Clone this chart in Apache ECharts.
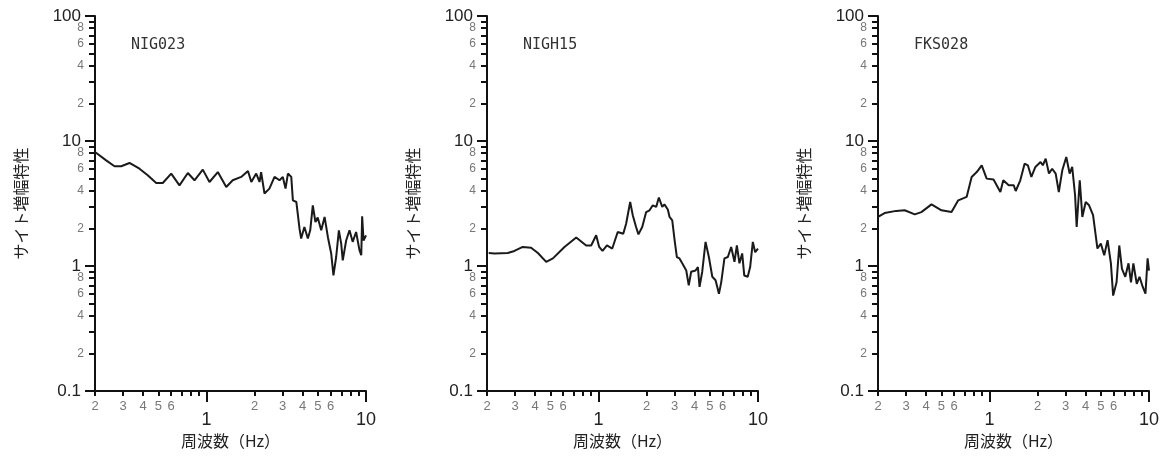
<!DOCTYPE html>
<html>
<head>
<meta charset="utf-8">
<script src="https://cdn.jsdelivr.net/npm/echarts@6/dist/echarts.min.js"></script>
<style>
html,body{margin:0;padding:0;background:#fff;}
#c{width:1167px;height:459px;}
</style>
</head>
<body>
<div id="c"></div>
<script>
// ---- data ----
const stations = ['NIG023', 'NIGH15', 'FKS028'];

const freqNIG023 = [0.2,0.235,0.265,0.292,0.329,0.38,0.428,0.484,0.532,0.601,0.677,0.764,0.841,0.948,1.044,1.178,1.33,1.46,1.65,1.82,1.91,2.05,2.15,2.2,2.31,2.48,2.67,2.87,3.01,3.13,3.24,3.4,3.48,3.66,3.83,3.92,4.11,4.32,4.47,4.64,4.82,4.98,5.24,5.5,5.77,6.05,6.25,6.5,6.76,6.99,7.15,7.51,7.88,8.25,8.67,9.1,9.34,9.46,9.65,10];
const ampNIG023  = [8.17,7.0,6.28,6.28,6.67,6.0,5.32,4.61,4.61,5.49,4.42,5.55,4.85,5.9,4.7,5.64,4.29,4.85,5.16,5.75,4.7,5.49,4.7,5.64,3.8,4.16,5.16,4.85,5.16,4.16,5.49,5.16,3.35,3.25,1.99,1.66,2.05,1.66,1.93,3.06,2.25,2.44,1.93,2.47,1.7,1.26,0.84,1.18,1.93,1.51,1.11,1.6,1.93,1.56,1.87,1.34,1.22,2.5,1.6,1.76];

const freqNIGH15 = [0.205,0.223,0.27,0.297,0.335,0.378,0.417,0.47,0.518,0.612,0.725,0.837,0.9,0.967,1.01,1.06,1.13,1.22,1.32,1.43,1.49,1.58,1.64,1.72,1.78,1.88,1.99,2.09,2.19,2.3,2.39,2.51,2.59,2.72,2.79,2.9,3.0,3.1,3.22,3.35,3.55,3.68,3.81,4.06,4.2,4.3,4.47,4.69,4.92,5.17,5.42,5.69,5.88,6.16,6.47,6.79,7.12,7.37,7.65,7.96,8.2,8.62,8.93,9.28,9.6,10];
const ampNIGH15  = [1.27,1.26,1.27,1.32,1.42,1.40,1.27,1.08,1.15,1.42,1.69,1.46,1.46,1.76,1.42,1.32,1.46,1.38,1.87,1.81,2.18,3.25,2.55,2.05,1.79,2.05,2.7,2.79,3.06,2.97,3.53,2.97,3.11,2.83,2.47,2.32,1.61,1.18,1.15,1.05,0.92,0.70,0.90,0.92,0.98,0.68,0.90,1.56,1.18,0.82,0.77,0.60,0.74,1.15,1.18,1.42,1.08,1.46,1.05,1.26,0.84,0.82,0.98,1.56,1.29,1.38];

const freqFKS028 = [0.2,0.22,0.26,0.294,0.34,0.374,0.433,0.5,0.578,0.637,0.719,0.773,0.832,0.894,0.96,1.06,1.17,1.22,1.32,1.42,1.46,1.56,1.66,1.74,1.83,1.94,2.09,2.16,2.25,2.36,2.47,2.6,2.72,2.86,3.03,3.18,3.3,3.44,3.52,3.68,3.82,4.01,4.21,4.46,4.75,4.99,5.24,5.5,5.77,5.96,6.26,6.51,6.77,7.1,7.44,7.71,7.98,8.38,8.72,9.14,9.5,9.8,10];
const ampFKS028  = [2.47,2.65,2.76,2.79,2.59,2.7,3.11,2.79,2.7,3.35,3.57,5.16,5.64,6.39,5.0,4.92,3.91,4.85,4.42,4.42,3.98,4.85,6.59,6.39,5.16,6.2,6.8,6.39,7.23,5.49,6.0,5.49,3.91,5.83,7.45,5.49,6.2,3.68,2.05,4.85,2.47,3.25,3.06,2.55,1.38,1.51,1.22,1.61,1.05,0.58,0.74,1.46,0.95,0.82,1.05,0.74,1.05,0.72,0.82,0.68,0.6,1.15,0.92];

const seriesFreq = [freqNIG023, freqNIGH15, freqFKS028];
const seriesAmp  = [ampNIG023, ampNIGH15, ampFKS028];

// tick values / labels
const xMinorTicks  = [0.2,0.3,0.4,0.5,0.6,0.7,0.8,0.9,2,3,4,5,6,7,8,9];
const xMinorLabels = [0.2,0.3,0.4,0.5,0.6,2,3,4,5,6];
const xMajorTicks  = [1,10];
const yMinorTicks  = [0.2,0.3,0.4,0.5,0.6,0.7,0.8,0.9,2,3,4,5,6,7,8,9,20,30,40,50,60,70,80,90];
const yMinorLabels = [0.2,0.4,0.6,0.8,2,4,6,8,20,40,60,80];
const yMajorTicks  = [0.1,1,10,100];

const xName = '周波数（Hz）';
const yName = 'サイト増幅特性';

// ---- layout ----
const gridLefts = [95, 487, 878];
const gridW = 271, gridTop = 16, gridH = 375;
const CJK = '"Noto Sans CJK JP", sans-serif';

function leadDigit(v) {
  const e = Math.floor(Math.log10(v) + 1e-9);
  return String(Math.round(v / Math.pow(10, e)));
}
function majorLabel(v) {
  if (v < 0.5) return '0.1';
  return String(Math.round(v));
}

const grid = [], xAxis = [], yAxis = [], series = [], title = [];
for (let i = 0; i < 3; i++) {
  grid.push({left: gridLefts[i], top: gridTop, width: gridW, height: gridH});
  xAxis.push({
    type: 'log', gridIndex: i, min: 0.2, max: 10, position: 'bottom',
    name: xName, nameLocation: 'middle', nameGap: 42,
    nameTextStyle: {fontFamily: CJK, fontSize: 16, color: '#222'},
    axisLine: {show: true, lineStyle: {color: '#111', width: 2}},
    axisTick: {show: true, inside: false, length: 5, customValues: xMinorTicks, lineStyle: {color: '#111', width: 2}},
    axisLabel: {show: true, customValues: xMinorLabels, margin: 9, fontSize: 13, color: '#777',
      fontFamily: '"Liberation Sans", sans-serif', formatter: leadDigit},
    splitLine: {show: false}, minorTick: {show: false}
  });
  xAxis.push({
    type: 'log', gridIndex: i, min: 0.2, max: 10, position: 'bottom',
    axisLine: {show: false},
    axisTick: {show: true, inside: false, length: 11, customValues: xMajorTicks, lineStyle: {color: '#111', width: 2}},
    axisLabel: {show: true, customValues: xMajorTicks, margin: 20, fontSize: 18, color: '#222',
      fontFamily: '"Liberation Sans", sans-serif', formatter: majorLabel},
    splitLine: {show: false}
  });
  yAxis.push({
    type: 'log', gridIndex: i, min: 0.1, max: 100, position: 'left',
    name: yName, nameLocation: 'middle', nameGap: 66,
    nameTextStyle: {fontFamily: CJK, fontSize: 16, color: '#222'},
    axisLine: {show: true, lineStyle: {color: '#111', width: 2}},
    axisTick: {show: true, inside: false, length: 6, customValues: yMinorTicks, lineStyle: {color: '#111', width: 2}},
    axisLabel: {show: true, customValues: yMinorLabels, margin: 11, fontSize: 12, color: '#777',
      fontFamily: '"Liberation Sans", sans-serif', formatter: leadDigit},
    splitLine: {show: false}, minorTick: {show: false}
  });
  yAxis.push({
    type: 'log', gridIndex: i, min: 0.1, max: 100, position: 'left',
    axisLine: {show: false},
    axisTick: {show: true, inside: false, length: 10, customValues: yMajorTicks, lineStyle: {color: '#111', width: 2}},
    axisLabel: {show: true, customValues: yMajorTicks, margin: 14, fontSize: 17, color: '#222',
      fontFamily: '"Liberation Sans", sans-serif', formatter: majorLabel},
    splitLine: {show: false}
  });
  series.push({
    type: 'line', xAxisIndex: 2 * i, yAxisIndex: 2 * i,
    data: seriesFreq[i].map((f, k) => [f, seriesAmp[i][k]]),
    showSymbol: false, symbol: 'none', smooth: false,
    lineStyle: {color: '#1a1a1a', width: 2}
  });
  title.push({
    text: stations[i], left: gridLefts[i] + 31, top: 33,
    textStyle: {fontFamily: '"DejaVu Sans Mono", monospace', fontSize: 15, fontWeight: 'normal', color: '#333'}
  });
}

const chart = echarts.init(document.getElementById('c'), null, {renderer: 'canvas'});
chart.setOption({
  animation: false,
  backgroundColor: '#ffffff',
  title, grid, xAxis, yAxis, series
});
</script>
</body>
</html>
